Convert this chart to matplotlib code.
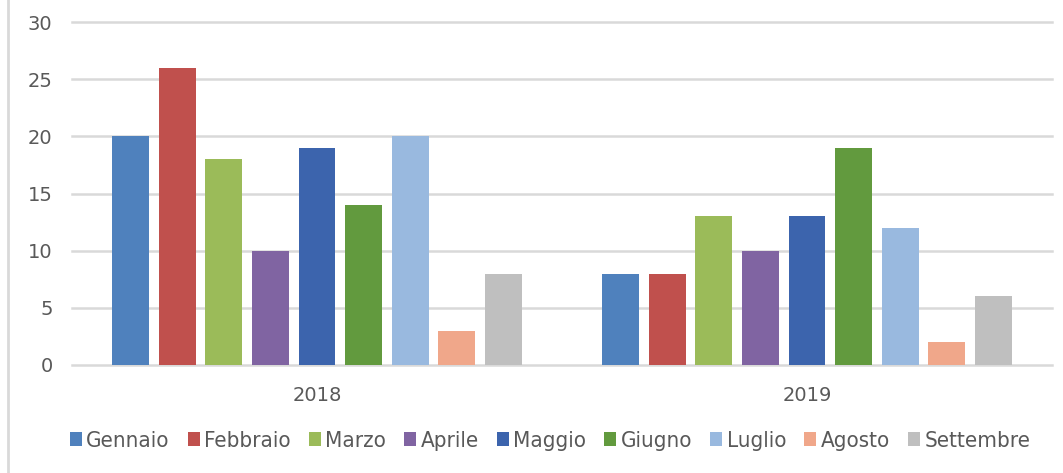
import numpy as np
import matplotlib
matplotlib.use("Agg")
import matplotlib.pyplot as plt
from matplotlib.lines import Line2D

years = ["2018", "2019"]
months = ["Gennaio", "Febbraio", "Marzo", "Aprile", "Maggio", "Giugno", "Luglio", "Agosto", "Settembre"]
v2018 = [20, 26, 18, 10, 19, 14, 20, 3, 8]
v2019 = [8, 8, 13, 10, 13, 19, 12, 2, 6]
colors = ["#4F81BD", "#C0504D", "#9BBB59", "#8064A2", "#3C64AD", "#629A3E", "#99B9DF", "#F0A78A", "#BFBFBF"]

plt.rcParams['font.family'] = ['DejaVu Sans']
txt = "#595959"
grid = "#D9D9D9"

fig = plt.figure(figsize=(10.63, 4.73), dpi=100)
ax = fig.add_axes([72/1063, 1-365/473, 980/1063, 343/473])

x = np.arange(len(years))
slot = 0.0951
width = 0.0755
for i, m in enumerate(months):
    vals = [v2018[i], v2019[i]]
    off = (i - (len(months)-1)/2) * slot
    ax.bar(x + off, vals, width=width, color=colors[i], label=m, zorder=3)

ax.set_xlim(-0.5, 1.5)
ax.set_ylim(0, 30)
ax.set_yticks(np.arange(0, 31, 5))
ax.set_xticks(x)
ax.set_xticklabels(years)
ax.yaxis.grid(True, color=grid, linewidth=1.8, zorder=0)
for gl in ax.yaxis.get_gridlines():
    gl.set_clip_on(False)
ax.set_axisbelow(True)
for s in ax.spines.values():
    s.set_visible(False)
ax.tick_params(axis='y', length=0, pad=14, labelsize=14, labelcolor=txt)
ax.tick_params(axis='x', length=0, pad=15, labelsize=14, labelcolor=txt)

# left border of the chart area
fig.add_artist(Line2D([8/1063, 8/1063], [0, 1], color=grid, linewidth=2, transform=fig.transFigure))

leg = fig.legend(loc='center', bbox_to_anchor=(550/1063, 1-441/473), ncol=9, frameon=False,
                 handlelength=0.55, handleheight=0.55, handletextpad=0.2, columnspacing=0.8,
                 prop={'size': 16, 'stretch': 'condensed'})
for t in leg.get_texts():
    t.set_color(txt)

fig.savefig("out.png", dpi=100)
